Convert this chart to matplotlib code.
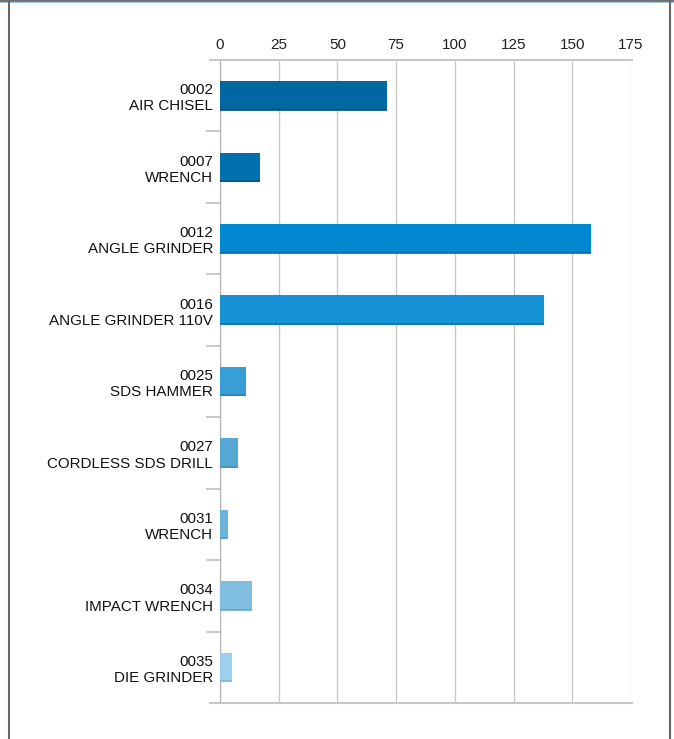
import matplotlib
matplotlib.use("Agg")
import matplotlib.pyplot as plt
from matplotlib.lines import Line2D
from matplotlib.ticker import MultipleLocator

plt.rcParams['font.family'] = ['Liberation Sans', 'DejaVu Sans']

codes = ["0002", "0007", "0012", "0016", "0025", "0027", "0031", "0034", "0035"]
names = ["AIR CHISEL", "WRENCH", "ANGLE GRINDER", "ANGLE GRINDER 110V",
         "SDS HAMMER", "CORDLESS SDS DRILL", "WRENCH", "IMPACT WRENCH", "DIE GRINDER"]
values = [71, 17, 158, 138, 11, 7.5, 3.3, 13.5, 5]
colors = ["#0067a0", "#0070ae", "#0088d0", "#1593d6", "#389fd6",
          "#58a8d4", "#6bb3da", "#80bee0", "#9dd0ec"]
edge_colors = ["#00507c", "#005a8c", "#006aa6", "#1078b0", "#2c84b6",
               "#4890b8", "#5a9cc0", "#6aa6c6", "#84b8d4"]

W, H = 674, 739
fig = plt.figure(figsize=(W / 100, H / 100), dpi=100)
ax = fig.add_axes([220 / W, 1 - 703 / H, 411 / W, 643 / H])

ypos = list(range(len(codes)))
bar_h = 0.41
ax.barh(ypos, values, height=bar_h, color=colors, zorder=3)
# darker bottom edge of each bar
for y, v, ec in zip(ypos, values, edge_colors):
    ax.plot([0, v], [y + bar_h / 2 - 0.01, y + bar_h / 2 - 0.01], color=ec, lw=1.2,
            solid_capstyle='butt', zorder=4)

ax.set_xlim(0, 175)
ax.set_ylim(len(codes) - 0.5, -0.5)
ax.xaxis.set_major_locator(MultipleLocator(25))
ax.xaxis.tick_top()
ax.tick_params(axis='x', length=0, pad=6, labelsize=11, colors='#222222')
ax.grid(axis='x', color='#c8c8c8', lw=1, zorder=0)

ax.set_yticks(ypos)
ax.set_yticklabels([f"{c}\n{n}" for c, n in zip(codes, names)], fontsize=10.9,
                   linespacing=1.2)
ax.tick_params(axis='y', length=0, pad=5, colors='#111111')
ax.set_yticks([y + 0.5 for y in ypos[:-1]], minor=True)
ax.tick_params(axis='y', which='minor', length=10, color='#c0c0c0', width=1.2)

for s in ['top', 'bottom', 'left', 'right']:
    ax.spines[s].set_visible(False)
ax.spines['left'].set_visible(True)
ax.spines['left'].set_color('#b0b0b0')

# top and bottom axis lines extending a bit to the left
for yy in [60, 703]:
    fig.add_artist(Line2D([210 / W, 632 / W], [1 - yy / H, 1 - yy / H],
                          color='#c8c8c8', lw=1.5))

# outer frame
fig.add_artist(Line2D([0, 1], [1 - 0.5 / H, 1 - 0.5 / H], color='#555555', lw=1.2))
fig.add_artist(Line2D([0, 1], [1 - 2 / H, 1 - 2 / H], color='#a8c8e0', lw=0.8))
fig.add_artist(Line2D([8.5 / W, 8.5 / W], [0, 1], color='#666666', lw=1.5))
fig.add_artist(Line2D([669.5 / W, 669.5 / W], [0, 1], color='#666666', lw=1.5))

fig.savefig("out.png", dpi=100)
